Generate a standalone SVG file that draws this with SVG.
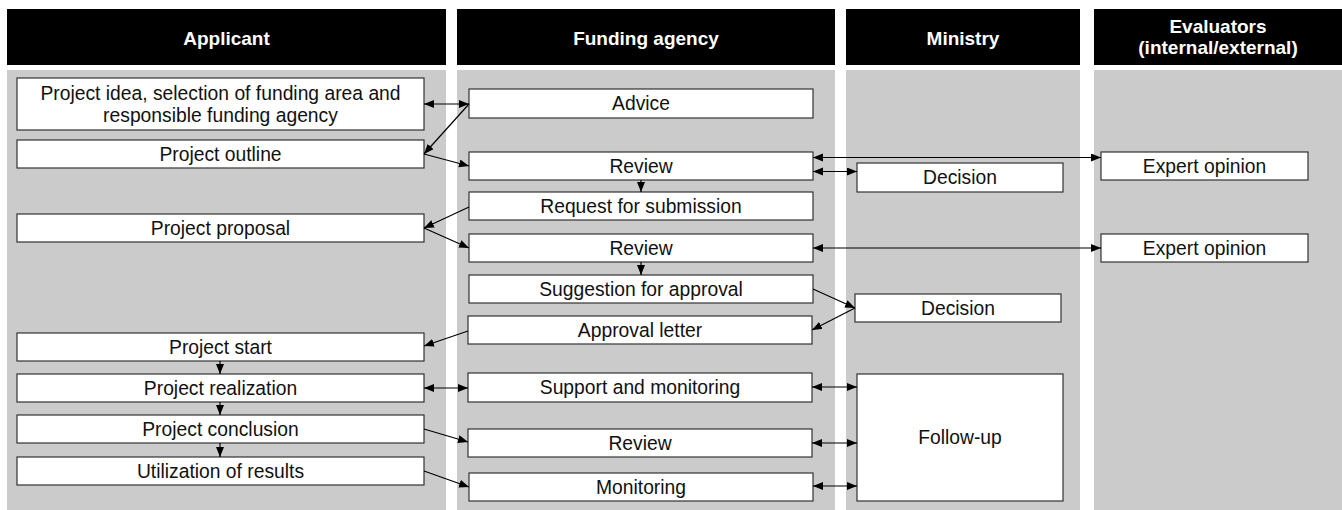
<svg xmlns="http://www.w3.org/2000/svg" width="1342" height="510" viewBox="0 0 1342 510">
<style>
.hdr{fill:#000}
.lane{fill:#cbcbcb}
.ht{font-family:"Liberation Sans",Arial,sans-serif;font-weight:bold;font-size:19px;fill:#fff;text-anchor:middle}
.box{fill:#fff;stroke:#333;stroke-width:1.2}
.t{font-family:"Liberation Sans",Arial,sans-serif;font-size:19.3px;fill:#111;text-anchor:middle}
.c{fill:none;stroke:#000;stroke-width:1.2}
.e{marker-end:url(#ah)}
.d{marker-end:url(#ah);marker-start:url(#ah)}
</style>
<defs>
<marker id="ah" markerUnits="userSpaceOnUse" markerWidth="11" markerHeight="9" refX="10" refY="4" orient="auto-start-reverse" viewBox="0 0 11 9">
<path d="M0,0 L10,4 L0,8 z" fill="#000"/>
</marker>
</defs>
<rect width="1342" height="510" fill="#fff"/>
<g id="lanes">
<rect class="hdr" x="7" y="9" width="439" height="56"/>
<rect class="hdr" x="457" y="9" width="378" height="56"/>
<rect class="hdr" x="846" y="9" width="234" height="56"/>
<rect class="hdr" x="1094" y="9" width="248" height="56"/>
<rect class="lane" x="7" y="70" width="439" height="440"/>
<rect class="lane" x="457" y="70" width="378" height="440"/>
<rect class="lane" x="846" y="70" width="234" height="440"/>
<rect class="lane" x="1094" y="70" width="248" height="440"/>
<text class="ht" x="226.5" y="45">Applicant</text>
<text class="ht" x="646" y="45">Funding agency</text>
<text class="ht" x="963" y="45">Ministry</text>
<text class="ht" x="1218" y="33">Evaluators</text>
<text class="ht" x="1218" y="54">(internal/external)</text>
</g>
<g id="n-idea"><rect class="box" x="17" y="78" width="407" height="52"/><text class="t" x="220.5" y="100">Project idea, selection of funding area and</text><text class="t" x="220.5" y="121.5">responsible funding agency</text></g>
<g id="n-outline"><rect class="box" x="17" y="140" width="407" height="28"/><text class="t" x="220.5" y="160.5">Project outline</text></g>
<g id="n-proposal"><rect class="box" x="17" y="214" width="407" height="28"/><text class="t" x="220.5" y="234.5">Project proposal</text></g>
<g id="n-start"><rect class="box" x="17" y="333" width="407" height="28"/><text class="t" x="220.5" y="353.5">Project start</text></g>
<g id="n-realization"><rect class="box" x="17" y="374" width="407" height="28"/><text class="t" x="220.5" y="394.5">Project realization</text></g>
<g id="n-conclusion"><rect class="box" x="17" y="415" width="407" height="28"/><text class="t" x="220.5" y="435.5">Project conclusion</text></g>
<g id="n-utilization"><rect class="box" x="17" y="457" width="407" height="28"/><text class="t" x="220.5" y="477.5">Utilization of results</text></g>
<g id="n-advice"><rect class="box" x="469" y="89" width="344" height="29"/><text class="t" x="641" y="110">Advice</text></g>
<g id="n-review1"><rect class="box" x="469" y="152" width="344" height="28"/><text class="t" x="641" y="172.5">Review</text></g>
<g id="n-request"><rect class="box" x="469" y="192" width="344" height="28"/><text class="t" x="641" y="212.5">Request for submission</text></g>
<g id="n-review2"><rect class="box" x="469" y="234" width="344" height="28"/><text class="t" x="641" y="254.5">Review</text></g>
<g id="n-suggestion"><rect class="box" x="469" y="275" width="344" height="28"/><text class="t" x="641" y="295.5">Suggestion for approval</text></g>
<g id="n-approval"><rect class="box" x="468" y="316" width="344" height="28"/><text class="t" x="640" y="336.5">Approval letter</text></g>
<g id="n-support"><rect class="box" x="468" y="373" width="344" height="29"/><text class="t" x="640" y="394">Support and monitoring</text></g>
<g id="n-review3"><rect class="box" x="468" y="429" width="344" height="28"/><text class="t" x="640" y="449.5">Review</text></g>
<g id="n-monitoring"><rect class="box" x="469" y="473" width="344" height="28"/><text class="t" x="641" y="493.5">Monitoring</text></g>
<g id="n-decision1"><rect class="box" x="857" y="163" width="206" height="29"/><text class="t" x="960" y="184">Decision</text></g>
<g id="n-decision2"><rect class="box" x="855" y="294" width="206" height="28"/><text class="t" x="958" y="314.5">Decision</text></g>
<g id="n-followup"><rect class="box" x="857" y="374" width="206" height="127"/><text class="t" x="960" y="444">Follow-up</text></g>
<g id="n-expert1"><rect class="box" x="1101" y="152" width="207" height="28"/><text class="t" x="1204.5" y="172.5">Expert opinion</text></g>
<g id="n-expert2"><rect class="box" x="1101" y="234" width="207" height="28"/><text class="t" x="1204.5" y="254.5">Expert opinion</text></g>
<g id="connectors">
<path class="c d" d="M424,104 H469"/>
<path class="c e" d="M469,104 L424,154"/>
<path class="c e" d="M424,154 L469,166"/>
<path class="c d" d="M813,157.5 H1101"/>
<path class="c d" d="M813,171.5 H857"/>
<path class="c e" d="M641,180 V192"/>
<path class="c e" d="M469,207 L424,228"/>
<path class="c e" d="M424,228 L469,248"/>
<path class="c d" d="M813,248 H1101"/>
<path class="c e" d="M641,262 V275"/>
<path class="c e" d="M813,289 L855,308"/>
<path class="c e" d="M855,308 L812,330"/>
<path class="c e" d="M468,331 L424,346"/>
<path class="c e" d="M220,361 V374"/>
<path class="c e" d="M220,402 V415"/>
<path class="c e" d="M220,443 V457"/>
<path class="c d" d="M424,388 H468"/>
<path class="c e" d="M424,429 L468,442"/>
<path class="c e" d="M424,471 L469,487"/>
<path class="c d" d="M812,387 H857"/>
<path class="c d" d="M812,443 H857"/>
<path class="c d" d="M813,486 H857"/>
</g>
</svg>
